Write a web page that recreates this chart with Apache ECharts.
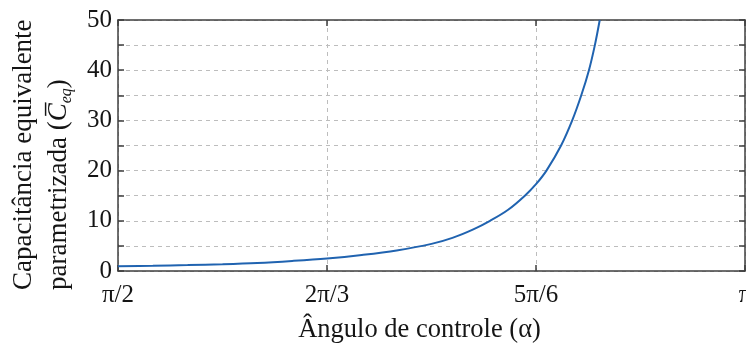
<!DOCTYPE html>
<html>
<head>
<meta charset="utf-8">
<script src="https://cdn.jsdelivr.net/npm/echarts@6/dist/echarts.min.js"></script>
<style>
  html, body { margin: 0; padding: 0; background: #fff; }
  #chart { width: 746px; height: 349px; }
</style>
</head>
<body>
<div id="chart"></div>
<script>
// Control angle alpha, in degrees (90° = π/2 ... 180° = π)
const alphaDeg = [90, 95, 100, 105, 110, 115, 120, 125, 130, 135, 138, 141, 143.4, 146, 148.4, 150, 151.5, 153.6, 155.2, 156.5, 157.6, 158.45, 159.15];
// Normalised equivalent capacitance at each angle
const ceq = [0.94, 1.05, 1.18, 1.35, 1.6, 2.0, 2.5, 3.2, 4.1, 5.4, 6.6, 8.3, 10, 12.2, 15, 17.3, 20, 25, 30, 35, 40, 45, 50];
// Tick labels for the angle axis
const xTickValues = [90, 120, 150, 180];
const xTickLabels = ['π/2', '2π/3', '5π/6', 'π'];
const yTicks = [0, 10, 20, 30, 40, 50];

const FONT = '"Liberation Serif", "Times New Roman", serif';
const FRAME = '#3f3f3f';
const GRID = '#bdbdbd';
const INK = '#151515';

const chart = echarts.init(document.getElementById('chart'), null, { renderer: 'canvas' });

const tickLabel = v => {
  const i = xTickValues.indexOf(v);
  return i >= 0 ? xTickLabels[i] : '';
};

const gridLine = { show: true, lineStyle: { color: GRID, type: [4, 4], width: 1 } };
const frameLine = { show: true, onZero: false, lineStyle: { color: FRAME, width: 1.5 } };
const innerTick = { show: true, inside: true, length: 6, lineStyle: { color: FRAME, width: 1.5 } };

chart.setOption({
  animation: false,
  grid: { left: 118, right: 1, top: 20, bottom: 78, containLabel: false, outerBoundsMode: 'none' },
  xAxis: [{
    type: 'value', min: 90, max: 180, interval: 30,
    axisLine: frameLine,
    axisTick: innerTick,
    axisLabel: { formatter: tickLabel, color: INK, fontFamily: FONT, fontSize: 25, margin: 12, hideOverlap: false },
    splitLine: gridLine,
    name: 'Ângulo de controle (α)', nameLocation: 'middle', nameGap: 46,
    nameTextStyle: { color: INK, fontFamily: FONT, fontSize: 26.5, padding: [0, 24, 0, 0] }
  }, {
    type: 'value', position: 'top', min: 90, max: 180, interval: 30,
    axisLine: frameLine,
    axisTick: innerTick,
    axisLabel: { show: false }, splitLine: { show: false }
  }],
  yAxis: [{
    type: 'value', min: 0, max: 50, interval: 5,
    axisLine: frameLine,
    axisTick: innerTick,
    axisLabel: {
      formatter: v => (yTicks.indexOf(v) >= 0 ? String(v) : ''),
      color: INK, fontFamily: FONT, fontSize: 25, margin: 6, hideOverlap: false
    },
    splitLine: gridLine
  }, {
    type: 'value', position: 'right', min: 0, max: 50, interval: 5,
    axisLine: frameLine,
    axisTick: innerTick,
    axisLabel: { show: false }, splitLine: { show: false }
  }],
  series: [{
    type: 'line',
    data: alphaDeg.map((a, i) => [a, ceq[i]]),
    smooth: 0.35,
    showSymbol: false,
    clip: true,
    lineStyle: { color: '#2063b0', width: 2 }
  }],
  graphic: [{
    type: 'group',
    x: 43, y: 150,
    rotation: Math.PI / 2,
    children: [{
      type: 'text', x: -140, y: -19,
      style: {
        text: 'Capacitância equivalente',
        font: '27px ' + FONT, fill: INK,
        align: 'left', verticalAlign: 'middle'
      }
    }, {
      type: 'text', x: -140, y: 16,
      style: {
        text: 'parametrizada ({c|C\u0305}{s|eq})',
        font: '27px ' + FONT, fill: INK,
        align: 'left', verticalAlign: 'middle',
        rich: {
          c: { font: 'italic 27px ' + FONT, fill: INK, lineHeight: 32 },
          s: { font: 'italic 16px ' + FONT, fill: INK, verticalAlign: 'bottom', lineHeight: 32 }
        }
      }
    }]
  }]
});
</script>
</body>
</html>
